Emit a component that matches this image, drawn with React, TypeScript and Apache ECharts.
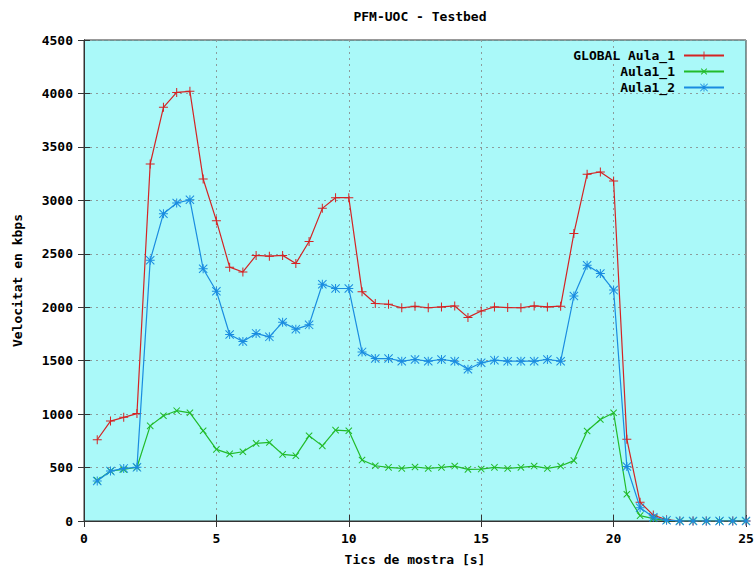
import React, { useEffect, useRef } from "react";
import * as echarts from "echarts";

const xTimes = [
  0.5, 1, 1.5, 2, 2.5, 3, 3.5, 4, 4.5, 5, 5.5, 6, 6.5, 7, 7.5, 8, 8.5, 9, 9.5, 10,
  10.5, 11, 11.5, 12, 12.5, 13, 13.5, 14, 14.5, 15, 15.5, 16, 16.5, 17, 17.5, 18,
  18.5, 19, 19.5, 20, 20.5, 21, 21.5, 22, 22.5, 23, 23.5, 24, 24.5, 25,
];

const globalAula1 = [
  760, 935, 970, 1005, 3340, 3870, 4010, 4020, 3200, 2810, 2375, 2330, 2485, 2478, 2485, 2410, 2615, 2925, 3025, 3025,
  2145, 2035, 2028, 1995, 2008, 1995, 2003, 2012, 1905, 1965, 2003, 1997, 1995, 2012, 2003, 2010,
  2690, 3245, 3265, 3180, 765, 175, 55, 12, 0, 0, 0, 0, 0, 0,
];

const aula1_1 = [
  380, 468, 482, 503, 890, 985, 1032, 1012, 844, 670, 628, 648, 726, 735, 623, 611, 797, 703, 850, 844,
  570, 517, 502, 492, 505, 492, 502, 514, 483, 486, 502, 492, 502, 514, 492, 514,
  565, 842, 950, 1012, 250, 50, 22, 4, 0, 0, 0, 0, 0, 0,
];

const aula1_2 = [
  374, 467, 492, 502, 2440, 2875, 2975, 3005, 2360, 2150, 1745, 1680, 1755, 1723, 1860, 1795, 1835, 2215, 2175, 2175,
  1582, 1520, 1520, 1495, 1511, 1495, 1511, 1495, 1420, 1480, 1505, 1495, 1495, 1495, 1511, 1495,
  2105, 2393, 2315, 2160, 510, 125, 35, 8, 0, 0, 0, 0, 0, 0,
];

const xTicks = [0, 5, 10, 15, 20, 25];
const yTicks = [0, 500, 1000, 1500, 2000, 2500, 3000, 3500, 4000, 4500];

const seriesNames = ["GLOBAL Aula_1", "Aula1_1", "Aula1_2"];
const FONT = "DejaVu Sans Mono";

const PLUS = "path://M4,0H5V4H9V5H5V9H4V5H0V4H4Z";
const STAR =
  "path://M4,0H5V4H9V5H5V9H4V5H0V4H4Z M0,0.7L0.7,0L9,8.3L8.3,9Z M9,0.7L0.7,9L0,8.3L8.3,0Z";

export default function App() {
  const ref = useRef<HTMLDivElement>(null);

  useEffect(() => {
    if (!ref.current) return;
    const chart = echarts.init(ref.current, null, { renderer: "svg" });
    const pair = (vals: number[]) => xTimes.map((x, i) => [x, vals[i]]);
    const baseText = { fontFamily: FONT, fontWeight: "bold" as const, fontSize: 13, color: "#000" };

    const mkSeries = (name: string, vals: number[], color: string, symbol: string, rot: number, z: number) => ({
      name,
      type: "line",
      data: pair(vals),
      symbol,
      symbolSize: 9,
      symbolRotate: rot,
      showAllSymbol: true,
      z,
      lineStyle: { color, width: 1.2 },
      itemStyle: { color, borderWidth: 0 },
      emphasis: { disabled: true },
    });

    chart.setOption({
      animation: false,
      backgroundColor: "#ffffff",
      title: {
        text: "PFM-UOC - Testbed",
        left: 415,
        textAlign: "center",
        top: 5,
        textStyle: { ...baseText, fontSize: 13 },
      },
      legend: {
        orient: "vertical",
        right: 25,
        top: 44,
        align: "right",
        itemWidth: 40,
        itemHeight: 10,
        itemGap: 3,
        data: seriesNames,
        textStyle: { ...baseText, fontSize: 13, padding: [0, 4, 0, 0] },
        selectedMode: false,
      },
      grid: {
        left: 84,
        right: 9,
        top: 40,
        bottom: 48,
        show: true,
        containLabel: false,
        outerBoundsMode: "none",
        backgroundColor: "#aaf9f9",
        borderColor: "#333",
        borderWidth: 1,
      },
      xAxis: [
        {
          type: "value",
          min: xTicks[0],
          max: xTicks[xTicks.length - 1],
          interval: 5,
          name: "Tics de mostra [s]",
          nameLocation: "middle",
          nameGap: 32,
          nameTextStyle: baseText,
          axisLine: { show: true, lineStyle: { color: "#333" } },
          axisTick: { show: true, inside: true, length: 6, lineStyle: { color: "#333" } },
          axisLabel: { ...baseText, margin: 11, formatter: (v: number) => String(v) },
          splitLine: { show: true, lineStyle: { color: "#8c9c9c", type: [2, 4], width: 1 } },
        },
        {
          type: "value",
          position: "top",
          min: 0,
          max: 25,
          interval: 5,
          axisLine: { show: true, lineStyle: { color: "#333" } },
          axisTick: { show: true, inside: true, length: 6, lineStyle: { color: "#333" } },
          axisLabel: { show: false },
          splitLine: { show: false },
        },
      ],
      yAxis: [
        {
          type: "value",
          min: yTicks[0],
          max: yTicks[yTicks.length - 1],
          interval: 500,
          name: "Velocitat en kbps",
          nameLocation: "middle",
          nameGap: 60,
          nameRotate: 90,
          nameTextStyle: baseText,
          axisLine: { show: true, lineStyle: { color: "#333" } },
          axisTick: { show: true, inside: true, length: 6, lineStyle: { color: "#333" } },
          axisLabel: { ...baseText, margin: 11, formatter: (v: number) => String(v) },
          splitLine: { show: true, lineStyle: { color: "#8c9c9c", type: [2, 4], width: 1 } },
        },
        {
          type: "value",
          position: "right",
          min: 0,
          max: 4500,
          interval: 500,
          axisLine: { show: true, lineStyle: { color: "#333" } },
          axisTick: { show: true, inside: true, length: 6, lineStyle: { color: "#333" } },
          axisLabel: { show: false },
          splitLine: { show: false },
        },
      ],
      series: [
        mkSeries(seriesNames[0], globalAula1, "#d42424", PLUS, 0, 3),
        mkSeries(seriesNames[1], aula1_1, "#22bb2a", PLUS, 45, 4),
        mkSeries(seriesNames[2], aula1_2, "#1a8ce0", STAR, 0, 5),
      ],
    });
    return () => chart.dispose();
  }, []);

  return (
    <div
      ref={ref}
      style={{ position: "fixed", left: 0, top: 0, width: 755, height: 569 }}
    />
  );
}
